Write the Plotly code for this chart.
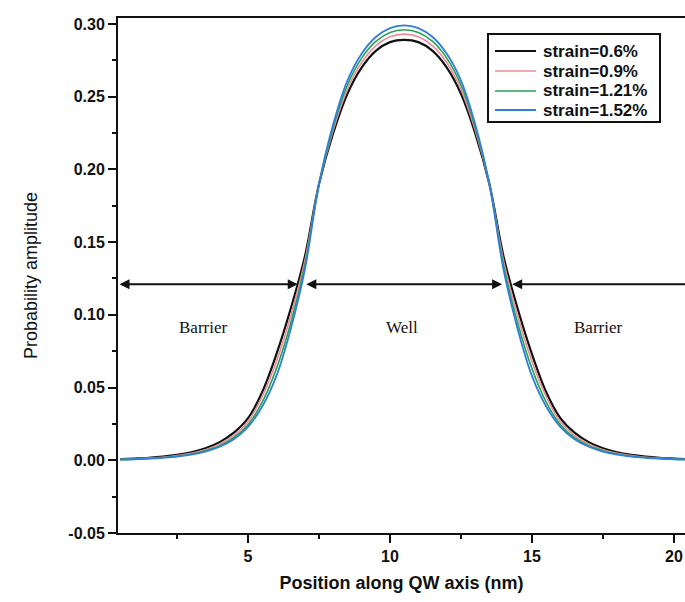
import plotly.graph_objects as go

# Position along the quantum-well axis (nm)
position_nm = [0.5, 1.0, 1.5, 2.0, 2.5, 3.0, 3.5, 4.0, 4.5, 5.0,
               5.5, 6.0, 6.5, 7.0, 7.5, 8.0, 8.5, 9.0, 9.5, 10.0,
               10.5, 11.0, 11.5, 12.0, 12.5, 13.0, 13.5, 14.0, 14.5, 15.0,
               15.5, 16.0, 16.5, 17.0, 17.5, 18.0, 18.5, 19.0, 19.5, 20.0, 20.5]

# Probability amplitude for each strain level
strain_0_6 = [0.0008, 0.0012, 0.0017, 0.0025, 0.0037, 0.0055, 0.0083, 0.0125, 0.0190, 0.0290,
              0.0470, 0.0730, 0.1040, 0.1400, 0.1900, 0.2250, 0.2520, 0.2700, 0.2815, 0.2875,
              0.2890, 0.2875, 0.2815, 0.2700, 0.2520, 0.2250, 0.1900, 0.1400, 0.1040, 0.0730,
              0.0470, 0.0290, 0.0190, 0.0125, 0.0083, 0.0055, 0.0037, 0.0025, 0.0017, 0.0012, 0.0008]
strain_0_9 = [0.0007, 0.0010, 0.0015, 0.0021, 0.0032, 0.0048, 0.0073, 0.0111, 0.0170, 0.0265,
              0.0440, 0.0680, 0.0990, 0.1370, 0.1900, 0.2270, 0.2550, 0.2735, 0.2850, 0.2912,
              0.2930, 0.2912, 0.2850, 0.2735, 0.2550, 0.2270, 0.1900, 0.1370, 0.0990, 0.0680,
              0.0440, 0.0265, 0.0170, 0.0111, 0.0073, 0.0048, 0.0032, 0.0021, 0.0015, 0.0010, 0.0007]
strain_1_21 = [0.0006, 0.0008, 0.0013, 0.0019, 0.0028, 0.0043, 0.0066, 0.0100, 0.0155, 0.0245,
               0.0400, 0.0630, 0.0940, 0.1340, 0.1900, 0.2290, 0.2580, 0.2765, 0.2880, 0.2942,
               0.2960, 0.2942, 0.2880, 0.2765, 0.2580, 0.2290, 0.1900, 0.1340, 0.0940, 0.0630,
               0.0400, 0.0245, 0.0155, 0.0100, 0.0066, 0.0043, 0.0028, 0.0019, 0.0013, 0.0008, 0.0006]
strain_1_52 = [0.0005, 0.0007, 0.0011, 0.0017, 0.0025, 0.0039, 0.0060, 0.0093, 0.0145, 0.0230,
               0.0370, 0.0580, 0.0900, 0.1310, 0.1900, 0.2310, 0.2610, 0.2795, 0.2910, 0.2972,
               0.2990, 0.2972, 0.2910, 0.2795, 0.2610, 0.2310, 0.1900, 0.1310, 0.0900, 0.0580,
               0.0370, 0.0230, 0.0145, 0.0093, 0.0060, 0.0039, 0.0025, 0.0017, 0.0011, 0.0007, 0.0005]

series_names = ["strain=0.6%", "strain=0.9%", "strain=1.21%", "strain=1.52%"]
series_values = [strain_0_6, strain_0_9, strain_1_21, strain_1_52]
series_colors = ["#111111", "#ee8a9c", "#22a455", "#2f7fd8"]
series_widths = [2.2, 1.6, 1.6, 1.8]

# Region labels and the interface markers (nm) at the arrow level
region_labels = ["Barrier", "Well", "Barrier"]
region_label_x = [3.42, 10.42, 17.32]
region_label_y = 0.0915
arrow_level = 0.121
left_barrier_span = [0.42, 6.75]
well_span = [7.0, 13.95]
right_barrier_span = [14.25, 20.39]

x_range = [0.42, 20.39]
y_range = [-0.05, 0.3041]

# Plot-area geometry in pixels (used for the boxed key)
fig_w, fig_h = 685, 602
m_l, m_r, m_t, m_b = 118, 0, 18, 69
area_w = fig_w - m_l - m_r
area_h = fig_h - m_t - m_b


def px_x(px):
    return (px - m_l) / area_w


def px_y(py):
    return (fig_h - m_b - py) / area_h


fig = go.Figure()
for name, vals, col, w in zip(series_names, series_values, series_colors, series_widths):
    fig.add_trace(go.Scatter(x=position_nm, y=vals, mode="lines", name=name,
                             showlegend=False,
                             line=dict(color=col, width=w, shape="spline")))

annotations = []
shapes = []
for lbl, lx in zip(region_labels, region_label_x):
    annotations.append(dict(x=lx, y=region_label_y, xref="x", yref="y", text=lbl,
                            showarrow=False,
                            font=dict(family="Liberation Serif", size=17, color="#111")))


def double_arrow(span, sides):
    return dict(x=span[1], y=arrow_level, ax=span[0], ay=arrow_level,
                xref="x", yref="y", axref="x", ayref="y", text="",
                showarrow=True, arrowhead=2, startarrowhead=2, arrowside=sides,
                arrowsize=1.0, startarrowsize=1.0, arrowwidth=2, arrowcolor="#111")


annotations.append(double_arrow(left_barrier_span, "end+start"))
annotations.append(double_arrow(well_span, "end+start"))
annotations.append(double_arrow(right_barrier_span, "start"))

# Boxed key in the upper right
key_box = (488, 34, 660, 122)
key_rows = [51, 71, 91, 110]
shapes.append(dict(type="rect", xref="paper", yref="paper",
                   x0=px_x(key_box[0]), x1=px_x(key_box[2]),
                   y0=px_y(key_box[3]), y1=px_y(key_box[1]),
                   line=dict(color="#111", width=2), fillcolor="white", layer="above"))
for name, col, w, ry in zip(series_names, series_colors, series_widths, key_rows):
    shapes.append(dict(type="line", xref="paper", yref="paper",
                       x0=px_x(495), x1=px_x(536), y0=px_y(ry), y1=px_y(ry),
                       line=dict(color=col, width=w), layer="above"))
    annotations.append(dict(x=px_x(541), y=px_y(ry), xref="paper", yref="paper",
                            xanchor="left", yanchor="middle", text=name, showarrow=False,
                            font=dict(family="Liberation Sans", size=17, color="#111",
                                      weight="bold")))

tick_font = dict(family="Liberation Sans", size=16, color="#111", weight="bold")

fig.update_layout(
    width=fig_w, height=fig_h,
    margin=dict(l=m_l, r=m_r, t=m_t, b=m_b),
    paper_bgcolor="white", plot_bgcolor="white",
    showlegend=False,
    annotations=annotations,
    shapes=shapes,
    xaxis=dict(range=x_range, tickvals=[5, 10, 15, 20], ticktext=["5", "10", "15", "20"],
               ticks="outside", ticklen=8, tickwidth=2, tickcolor="#111",
               minor=dict(tickvals=[2.5, 7.5, 12.5, 17.5], ticks="outside", ticklen=4,
                          tickwidth=1.5, tickcolor="#111"),
               showline=True, linewidth=2, linecolor="#111", mirror=True,
               showgrid=False, zeroline=False, tickfont=tick_font,
               title=dict(text="Position along QW axis (nm)", standoff=12,
                          font=dict(family="Liberation Sans", size=18, color="#111",
                                    weight="bold"))),
    yaxis=dict(range=y_range, tickvals=[-0.05, 0.0, 0.05, 0.10, 0.15, 0.20, 0.25, 0.30],
               ticktext=["-0.05", "0.00", "0.05", "0.10", "0.15", "0.20", "0.25", "0.30"],
               ticks="outside", ticklen=8, tickwidth=2, tickcolor="#111",
               minor=dict(tickvals=[-0.025, 0.025, 0.075, 0.125, 0.175, 0.225, 0.275],
                          ticks="outside", ticklen=4, tickwidth=1.5, tickcolor="#111"),
               showline=True, linewidth=2, linecolor="#111", mirror=False,
               showgrid=False, zeroline=False, tickfont=tick_font,
               title=dict(text="Probability amplitude", standoff=26,
                          font=dict(family="Liberation Sans", size=18, color="#111"))),
)

fig.write_html("out.html")
